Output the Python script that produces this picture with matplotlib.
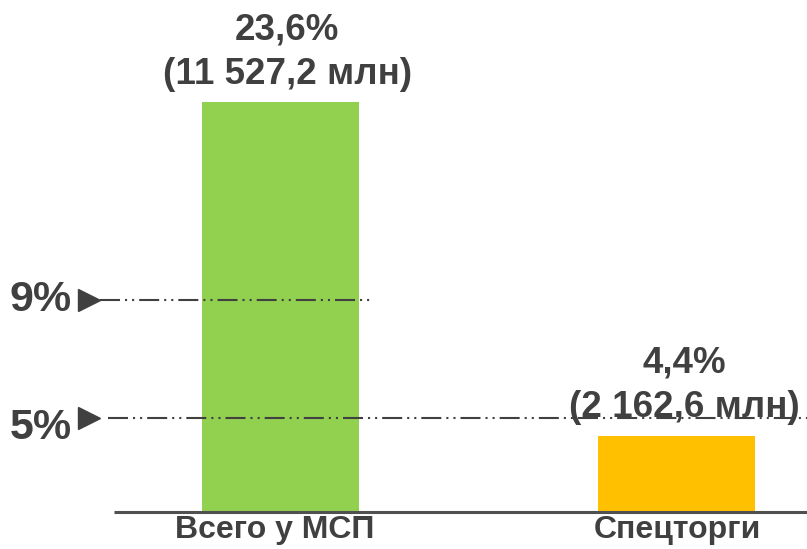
import matplotlib.pyplot as plt

# данные
categories = ["Всего у МСП", "Спецторги"]
shares = [23.6, 4.4]
amounts = ["(11 527,2 млн)", "(2 162,6 млн)"]
bar_colors = ["#92D050", "#FFC000"]
ref_labels = ["9%", "5%"]

# на исходной картинке линии-пороги нарисованы не в масштабе, поэтому высоты отдельно
ref_heights = [12.2, 5.43]
ref_spans = [(-0.455, 0.228), (-0.435, 1.33)]
ref_text_dy = [0.0, -0.6]

plt.rcParams['font.family'] = ['Liberation Sans', 'DejaVu Sans']
text_color = "#404040"

fig = plt.figure(figsize=(8.07, 5.49), dpi=100)
ax = fig.add_axes([0, 0, 1, 1])
ax.set_xlim(-0.7074, 1.3279)
ax.set_ylim(-2.13, 29.5)
ax.axis("off")

x = list(range(len(categories)))
ax.bar(x, shares, width=0.396, color=bar_colors, zorder=2)

# подписи над столбцами
for xi, val, amt in zip(x, shares, amounts):
    ax.annotate(f"{val:.1f}%".replace(".", ","), (xi, val), xytext=(5, 52),
                textcoords="offset points", ha="center", va="center",
                fontsize=26.5, fontweight="bold", color=text_color)
    ax.annotate(amt, (xi, val), xytext=(5, 20), textcoords="offset points",
                ha="center", va="center", fontsize=26.5, fontweight="bold",
                color=text_color)
    ax.annotate(categories[xi], (xi, 0), xytext=(-4 if xi == 0 else 0, -13),
                textcoords="offset points", ha="center", va="center",
                fontsize=23, fontweight="bold", color=text_color)

# линия основания
ax.plot([-0.4187, 1.33], [0, 0], color="#505050", lw=2.2, zorder=3, solid_capstyle="butt")

# пороговые линии
dash = (0, (9.6, 2.4, 1.0, 2.4, 1.0, 2.4))
for lab, h, (x0, x1), dy in zip(ref_labels, ref_heights, ref_spans, ref_text_dy):
    ax.plot([x0, x1], [h, h], color=text_color, lw=1.5, linestyle=dash, zorder=3)
    ax.plot([-0.483], [h], marker=">", markersize=16, color=text_color, zorder=4)
    ax.text(-0.605, h + dy, lab, ha="center", va="center", fontsize=31,
            fontweight="bold", color=text_color)

fig.savefig("out.png", dpi=100)
